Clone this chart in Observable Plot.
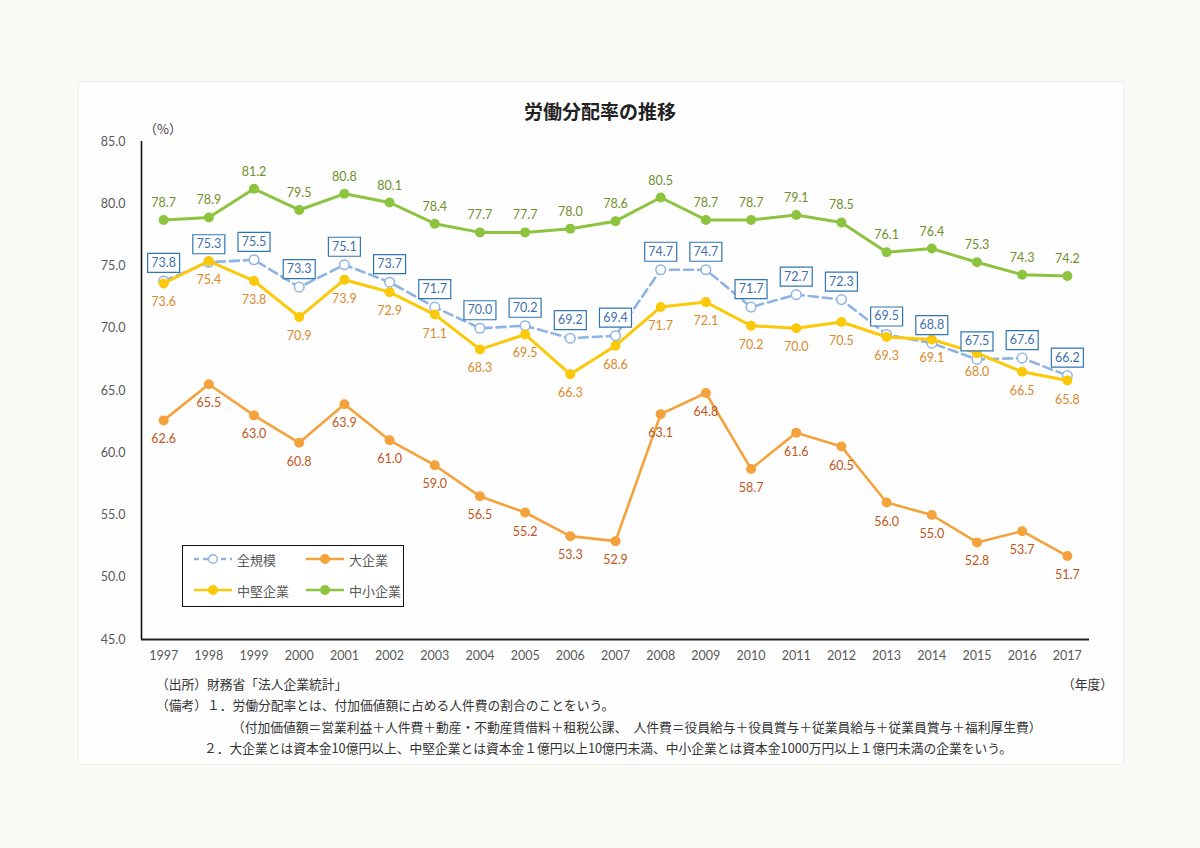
<!DOCTYPE html>
<html>
<head>
<meta charset="utf-8">
<script src="https://cdn.jsdelivr.net/npm/d3@7"></script>
<script src="https://cdn.jsdelivr.net/npm/@observablehq/plot@0.6"></script>
<style>
  html, body { margin: 0; padding: 0; }
  body { width: 1200px; height: 848px; background: #f9f9f6; position: relative; overflow: hidden;
         font-family: "Noto Sans CJK JP", "Noto Sans", sans-serif; }
  #panel { position: absolute; left: 78px; top: 81px; width: 1046px; height: 684px; background: #fefefe;
           border: 1px solid #efefec; box-sizing: border-box; }
  #chart { position: absolute; left: 0; top: 0; }
  .abs { position: absolute; white-space: nowrap; }
  #title { left: 0; width: 1200px; top: 97px; text-align: center; font-size: 19px; font-weight: bold; color: #222; }
  #unit { left: 144px; top: 119px; font-size: 13px; color: #444; }
  .cap { font-size: 12.75px; color: #333; line-height: 16px; }
  #legend { left: 182px; top: 545px; width: 222px; height: 62px; border: 1.5px solid #111; box-sizing: border-box; background: #fff; }
  .li { position: absolute; font-size: 13px; color: #595959; display: flex; align-items: center; }
  .li svg { margin-right: 4px; }
</style>
</head>
<body>
<div id="panel"></div>
<div id="chart" class="abs"></div>
<div id="title" class="abs">労働分配率の推移</div>
<div id="unit" class="abs">（%）</div>
<div id="legend" class="abs"></div>
<div class="abs cap" style="left:156px; top:676px;">（出所）財務省「法人企業統計」</div>
<div class="abs cap" style="left:1062px; top:676px;">（年度）</div>
<div class="abs cap" style="left:156px; top:697px;">（備考）１．労働分配率とは、付加価値額に占める人件費の割合のことをいう。</div>
<div class="abs cap" style="left:232px; top:719px;">（付加価値額＝営業利益＋人件費＋動産・不動産賃借料＋租税公課、　人件費＝役員給与＋役員賞与＋従業員給与＋従業員賞与＋福利厚生費）</div>
<div class="abs cap" style="left:204px; top:740px;">２．大企業とは資本金10億円以上、中堅企業とは資本金１億円以上10億円未満、中小企業とは資本金1000万円以上１億円未満の企業をいう。</div>
<script>
// ---- data ----
const years = [1997,1998,1999,2000,2001,2002,2003,2004,2005,2006,2007,2008,2009,2010,2011,2012,2013,2014,2015,2016,2017];
const seriesNames = ["全規模", "大企業", "中堅企業", "中小企業"];
const allSizes = [73.8,75.3,75.5,73.3,75.1,73.7,71.7,70.0,70.2,69.2,69.4,74.7,74.7,71.7,72.7,72.3,69.5,68.8,67.5,67.6,66.2];
const large    = [62.6,65.5,63.0,60.8,63.9,61.0,59.0,56.5,55.2,53.3,52.9,63.1,64.8,58.7,61.6,60.5,56.0,55.0,52.8,53.7,51.7];
const medium   = [73.6,75.4,73.8,70.9,73.9,72.9,71.1,68.3,69.5,66.3,68.6,71.7,72.1,70.2,70.0,70.5,69.3,69.1,68.0,66.5,65.8];
const small    = [78.7,78.9,81.2,79.5,80.8,80.1,78.4,77.7,77.7,78.0,78.6,80.5,78.7,78.7,79.1,78.5,76.1,76.4,75.3,74.3,74.2];
const yTicks = [45,50,55,60,65,70,75,80,85];

// ---- styles ----
const C = {
  all:   {line: "#8EB4E3", label: "#3F6FAF", box: "#2E75B6"},
  large: {line: "#F4A23C", label: "#C0561A"},
  med:   {line: "#FBC80A", label: "#DB8A2A"},
  small: {line: "#8DC43F", label: "#6F8F2A"}
};
const rows = (vals, name) => years.map((y, i) => ({year: y, value: vals[i], series: name}));
const dAll = rows(allSizes, seriesNames[0]);
const dLarge = rows(large, seriesNames[1]);
const dMed = rows(medium, seriesNames[2]);
const dSmall = rows(small, seriesNames[3]);

const xDomain = [1996.51, 2017.49];
const numFont = "Lato, 'Open Sans', sans-serif";
const boxSymbol = { draw(ctx) { ctx.rect(-16, -9.5, 32, 19); } };
const fmt = d => d.toFixed(1);

const chart = Plot.plot({
  width: 1200,
  height: 680,
  marginTop: 141,
  marginBottom: 41,
  marginLeft: 141,
  marginRight: 111,
  style: {background: "transparent", fontFamily: numFont, overflow: "visible"},
  x: {domain: xDomain},
  y: {domain: [45, 85]},
  marks: [
    Plot.axisY({ticks: yTicks, tickFormat: fmt, tickSize: 0, tickPadding: 16, fill: "#595959", fontSize: 12.5, label: null}),
    Plot.axisX({ticks: years, tickFormat: d => String(d), tickSize: 0, tickPadding: 12, fill: "#595959", fontSize: 12.5, label: null}),
    // large
    Plot.line(dLarge, {x: "year", y: "value", stroke: C.large.line, strokeWidth: 2.6}),
    Plot.dot(dLarge, {x: "year", y: "value", r: 5, fill: C.large.line}),
    // all sizes
    Plot.line(dAll, {x: "year", y: "value", stroke: C.all.line, strokeWidth: 2.6, strokeDasharray: "9,5"}),
    Plot.dot(dAll, {x: "year", y: "value", r: 4.8, fill: "#fff", stroke: C.all.line, strokeWidth: 1.5}),
    // medium
    Plot.line(dMed, {x: "year", y: "value", stroke: C.med.line, strokeWidth: 3}),
    Plot.dot(dMed, {x: "year", y: "value", r: 5, fill: C.med.line}),
    // small
    Plot.line(dSmall, {x: "year", y: "value", stroke: C.small.line, strokeWidth: 3}),
    Plot.dot(dSmall, {x: "year", y: "value", r: 5, fill: C.small.line}),
    // labels
    Plot.text(dLarge, {x: "year", y: "value", text: d => fmt(d.value), dy: 19, fill: C.large.label, fontSize: 12.5}),
    Plot.text(dMed, {x: "year", y: "value", text: d => fmt(d.value), dy: 19, fill: C.med.label, fontSize: 12.5}),
    Plot.text(dSmall, {x: "year", y: "value", text: d => fmt(d.value), dy: -17, fill: C.small.label, fontSize: 12.5}),
    Plot.dot(dAll, {x: "year", y: "value", symbol: boxSymbol, dy: -18, fill: "#fff", stroke: C.all.box, strokeWidth: 1.2}),
    Plot.text(dAll, {x: "year", y: "value", text: d => fmt(d.value), dy: -18, fill: C.all.label, fontSize: 12.5}),
    // axis lines
    Plot.ruleX([xDomain[0]], {stroke: "#111", strokeWidth: 1.6}),
    Plot.ruleY([45], {stroke: "#222", strokeWidth: 2})
  ]
});
document.getElementById("chart").appendChild(chart);

// ---- legend ----
const legendItems = [
  {name: seriesNames[0], color: C.all.line, dash: "5,4", open: true, left: 10, top: 3},
  {name: seriesNames[1], color: C.large.line, dash: null, open: false, left: 122, top: 3},
  {name: seriesNames[2], color: C.med.line, dash: null, open: false, left: 10, top: 34},
  {name: seriesNames[3], color: C.small.line, dash: null, open: false, left: 122, top: 34}
];
const leg = document.getElementById("legend");
legendItems.forEach(it => {
  const div = document.createElement("div");
  div.className = "li";
  div.style.left = it.left + "px";
  div.style.top = it.top + "px";
  div.style.height = "20px";
  const sw = `<svg width="40" height="14"><line x1="1" x2="39" y1="7" y2="7" stroke="${it.color}" stroke-width="2.6" ${it.dash ? `stroke-dasharray="${it.dash}"` : ""}/>` +
    `<circle cx="20" cy="7" r="4.3" fill="${it.open ? "#fff" : it.color}" stroke="${it.color}" stroke-width="1.4"/></svg>`;
  div.innerHTML = sw + `<span>${it.name}</span>`;
  leg.appendChild(div);
});
</script>
</body>
</html>
